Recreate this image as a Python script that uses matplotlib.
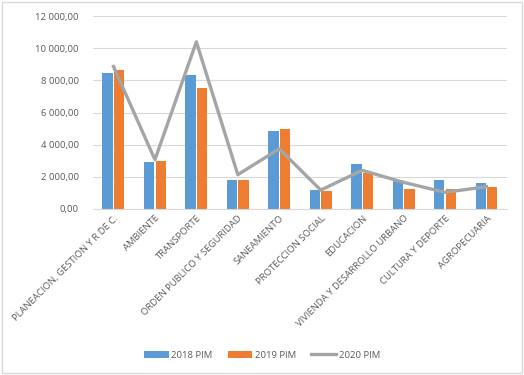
import numpy as np
import matplotlib
matplotlib.use("Agg")
import matplotlib.pyplot as plt
from matplotlib.ticker import FuncFormatter, MultipleLocator
from matplotlib.patches import Rectangle

categorias = ['PLANEACION, GESTION Y R DE C.', 'AMBIENTE', 'TRANSPORTE',
              'ORDEN PUBLICO Y SEGURIDAD', 'SANEAMIENTO', 'PROTECCION SOCIAL',
              'EDUCACION', 'VIVIENDA Y DESARROLLO URBANO', 'CULTURA Y DEPORTE',
              'AGROPECUARIA']
pim_2018 = [8480, 2940, 8330, 1800, 4840, 1200, 2770, 1780, 1780, 1610]
pim_2019 = [8650, 3000, 7520, 1800, 4990, 1140, 2240, 1260, 1260, 1385]
pim_2020 = [8870, 3060, 10400, 2130, 3740, 1170, 2400, 1650, 1030, 1380]

azul = '#5B9BD5'
laranja = '#ED7D31'
cinza = '#A5A5A5'
cor_texto = '#595959'

plt.rcParams['font.family'] = ['Open Sans', 'DejaVu Sans']

fig = plt.figure(figsize=(5.24, 3.75), dpi=100)
ax = fig.add_axes([0.177, 0.443, 0.791, 0.514])

x = np.arange(len(categorias))
w = 0.25
b1 = ax.bar(x - w / 2 - 0.015, pim_2018, width=w, color=azul, label='2018 PIM', zorder=2)
b2 = ax.bar(x + w / 2 + 0.015, pim_2019, width=w, color=laranja, label='2019 PIM', zorder=2)
l3, = ax.plot(x, pim_2020, color=cinza, linewidth=2.4, label='2020 PIM', zorder=3)

ax.set_xlim(-0.5, len(categorias) - 0.5)
ax.set_ylim(0, 12000)
ax.yaxis.set_major_locator(MultipleLocator(2000))


def formato(v, pos):
    s = f"{v:,.2f}"
    return s.replace(',', ' ').replace('.', ',')


ax.yaxis.set_major_formatter(FuncFormatter(formato))
ax.grid(axis='y', color='#D9D9D9', linewidth=0.8, zorder=0)
for lado in ['top', 'right', 'left']:
    ax.spines[lado].set_visible(False)
ax.spines['bottom'].set_color('#D9D9D9')
ax.tick_params(axis='both', length=0, labelsize=6.8, colors=cor_texto)
ax.tick_params(axis='y', pad=10)
ax.set_xticks(x)
ax.set_xticklabels(categorias, rotation=45, ha='right', rotation_mode='anchor')

fig.legend([b1, b2, l3], ['2018 PIM', '2019 PIM', '2020 PIM'],
           loc='center', bbox_to_anchor=(0.5, 0.053), ncol=3, frameon=False,
           fontsize=6.8, labelcolor=cor_texto, handlelength=2.6, handleheight=0.8,
           handletextpad=0.3, columnspacing=1.6)

fig.patches.append(Rectangle((0.004, 0.006), 0.992, 0.988, transform=fig.transFigure,
                             fill=False, edgecolor='#D9D9D9', linewidth=1))

fig.savefig('out.png', dpi=100)
